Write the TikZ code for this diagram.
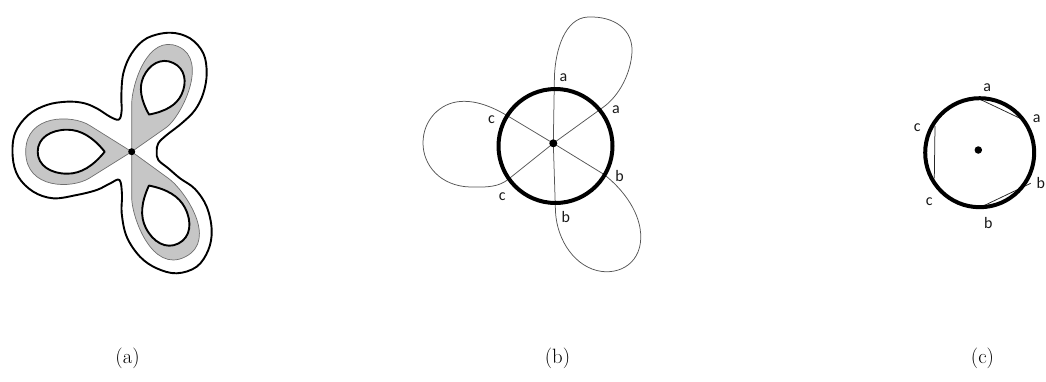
\documentclass[tikz,border=0pt]{standalone}
\usepackage{fontspec}
\newfontfamily\lblfont{Carlito}
\definecolor{lobegray}{RGB}{198,198,198}
\definecolor{edgegray}{RGB}{110,110,110}
\definecolor{spokegray}{RGB}{85,85,85}
\begin{document}
\begin{tikzpicture}[x=1pt,y=-1pt,
  outline/.style={line width=1.9pt, black, line join=round},
  lobe/.style={fill=lobegray, draw=edgegray, line width=0.7pt, line join=round},
  hole/.style={fill=white, draw=black, line width=1.9pt, line join=round},
  dotc/.style={circle, fill=black, inner sep=0pt, minimum size=#1},
  ring/.style={circle, draw=black, line width=4pt, inner sep=0pt, minimum size=#1},
  spoke/.style={draw=spokegray, line width=0.75pt},
  chord/.style={draw=black!85, line width=0.75pt},
  lbl/.style={font=\lblfont\fontsize{16}{19}\selectfont, inner sep=0pt, text=black!90},
  capt/.style={font=\fontsize{20.7}{24}\selectfont, anchor=base, inner sep=0pt}
]
\useasboundingbox (0,0) rectangle (1046,381);

% ---------------- (a) ----------------
\draw[outline] plot[smooth cycle, tension=0.6] coordinates {
 (121.7,110) (121.3,96.7) (123.3,73.3) (131.7,53.3) (146.7,38.3) (170,32.7)
 (190,38.3) (203.3,53.3) (206.7,73.3) (203.3,93.3) (195,110) (181.7,123.3)
 (166.7,135) (158.3,143.3) (156.7,151.7) (158.3,160) (168.3,168.3) (180,178.3)
 (195,189) (206.7,206.7) (211.7,230) (208.3,250) (196.7,266.7) (176.7,273.3)
 (156.7,268.3) (140,256.7) (126.7,236.7) (121.7,213.3) (122,195) (119.5,180)
 (110,183.5) (96.7,190) (76.7,195) (53.3,198.3) (33.3,191.7) (18.3,176.7)
 (12.7,156.7) (15,133.3) (28.3,115) (46.7,105) (66.7,101.7) (83.3,103)
 (96.7,108.3) (110,116.7) (119,119.5)};

\begin{scope}[shift={(131.7,151.7)}, y=1pt]
  % upper lobe
  \begin{scope}[rotate=66]
    \filldraw[lobe] (0,0) -- (43.85,19.52) .. controls (60.3,26.8) and (115,34) .. (115,0)
      .. controls (115,-34) and (51.4,-30.9) .. (36.0,-21.63) -- cycle;
  \end{scope}
  % left lobe
  \begin{scope}[rotate=180]
    \filldraw[lobe] (0,0) -- (42.4,26.5) .. controls (59.4,37.1) and (106,38) .. (106,0)
      .. controls (106,-38) and (59.4,-37.1) .. (42.4,-26.5) -- cycle;
  \end{scope}
  % lower lobe
  \begin{scope}[rotate=-63]
    \filldraw[lobe] (0,0) -- (41.0,20.9) .. controls (57.0,29.1) and (118,38) .. (118,0)
      .. controls (118,-38) and (57.0,-29.1) .. (41.0,-20.9) -- cycle;
  \end{scope}
  % holes
  \begin{scope}[rotate=65]
    \filldraw[hole] (41,0) .. controls (50.7,13.4) and (61,21) .. (72.9,21)
      .. controls (86.6,21) and (98,13.4) .. (98,0)
      .. controls (98,-13.4) and (86.6,-21) .. (72.9,-21)
      .. controls (61,-21) and (50.7,-13.4) .. (41,0) -- cycle;
  \end{scope}
  \begin{scope}[rotate=180]
    \filldraw[hole] (27,0) .. controls (38.4,14.1) and (50.5,22) .. (64.5,22)
      .. controls (80.6,22) and (94,14.1) .. (94,0)
      .. controls (94,-14.1) and (80.6,-22) .. (64.5,-22)
      .. controls (50.5,-22) and (38.4,-14.1) .. (27,0) -- cycle;
  \end{scope}
  \begin{scope}[rotate=-63]
    \filldraw[hole] (38,0) .. controls (49.1,14.1) and (60.8,22) .. (74.4,22)
      .. controls (90,22) and (103,14.1) .. (103,0)
      .. controls (103,-14.1) and (90,-22) .. (74.4,-22)
      .. controls (60.8,-22) and (49.1,-14.1) .. (38,0) -- cycle;
  \end{scope}
\end{scope}
\node[dotc=7pt] (adot) at (131.7,151.7) {};

% ---------------- (b) ----------------
\coordinate (bc) at (553.3,143.3);
\coordinate (bT) at (554.4,78);
\coordinate (bUR) at (601.7,108.3);
\coordinate (bUL) at (510,117.3);
\coordinate (bLL) at (508.3,179.3);
\coordinate (bB) at (555.5,212);
\coordinate (bLR) at (603.3,174);
\draw[spoke] (bc) -- (bT) .. controls (555,50) and (565,18) .. (588,17)
  .. controls (615,16) and (633,30) .. (632,52)
  .. controls (631,72) and (620,96) .. (bUR) -- (bc);
\draw[spoke] (bc) -- (bUL) .. controls (495.4,108.5) and (478,100) .. (460,101.5)
  .. controls (440,103) and (423,120) .. (423,143)
  .. controls (423,165) and (440,186) .. (470,187)
  .. controls (488,187.5) and (499,186.7) .. (bLL) -- (bc);
\draw[spoke] (bc) -- (bB) .. controls (557,240) and (575,268) .. (602,271.5)
  .. controls (625,274) and (645,258) .. (640,228)
  .. controls (636,205) and (618,185) .. (bLR) -- (bc);
\node[ring=114pt] (bring) at (555.5,146) {};
\node[dotc=8pt] (bdot) at (bc) {};
\node[lbl] (ba1) at (563.5,77.5) {a};
\node[lbl] (ba2) at (616,109.3) {a};
\node[lbl] (bc1) at (491.5,119.5) {c};
\node[lbl] (bc2) at (502.3,196.7) {c};
\node[lbl] (bb1) at (619.5,176) {b};
\node[lbl] (bb2) at (565.7,217) {b};

% ---------------- (c) ----------------
\coordinate (ca1) at (980,99.3);
\coordinate (ca2) at (1020,118.3);
\coordinate (cc1) at (935,126);
\coordinate (cc2) at (934.3,178.3);
\coordinate (cb1) at (981.7,206.7);
\coordinate (cb2) at (1030.7,183.3);
\draw[chord] (ca1) -- (ca2);
\draw[chord] (cc1) -- (cc2);
\draw[chord] (cb1) -- (cb2);
\node[ring=109pt] (cring) at (979.7,152.7) {};
\node[dotc=7.5pt] (cdot) at (978.3,150) {};
\node[lbl] (la1) at (987.3,87.3) {a};
\node[lbl] (la2) at (1036.7,118.3) {a};
\node[lbl] (lc1) at (917.3,127.3) {c};
\node[lbl] (lc2) at (929.3,201.7) {c};
\node[lbl] (lb1) at (1040.7,182.7) {b};
\node[lbl] (lb2) at (988.3,223.3) {b};

% captions
\node[capt] (capa) at (127.5,363) {(a)};
\node[capt] (capb) at (557.5,363) {(b)};
\node[capt] (capc) at (982.5,363) {(c)};
\end{tikzpicture}
\end{document}
